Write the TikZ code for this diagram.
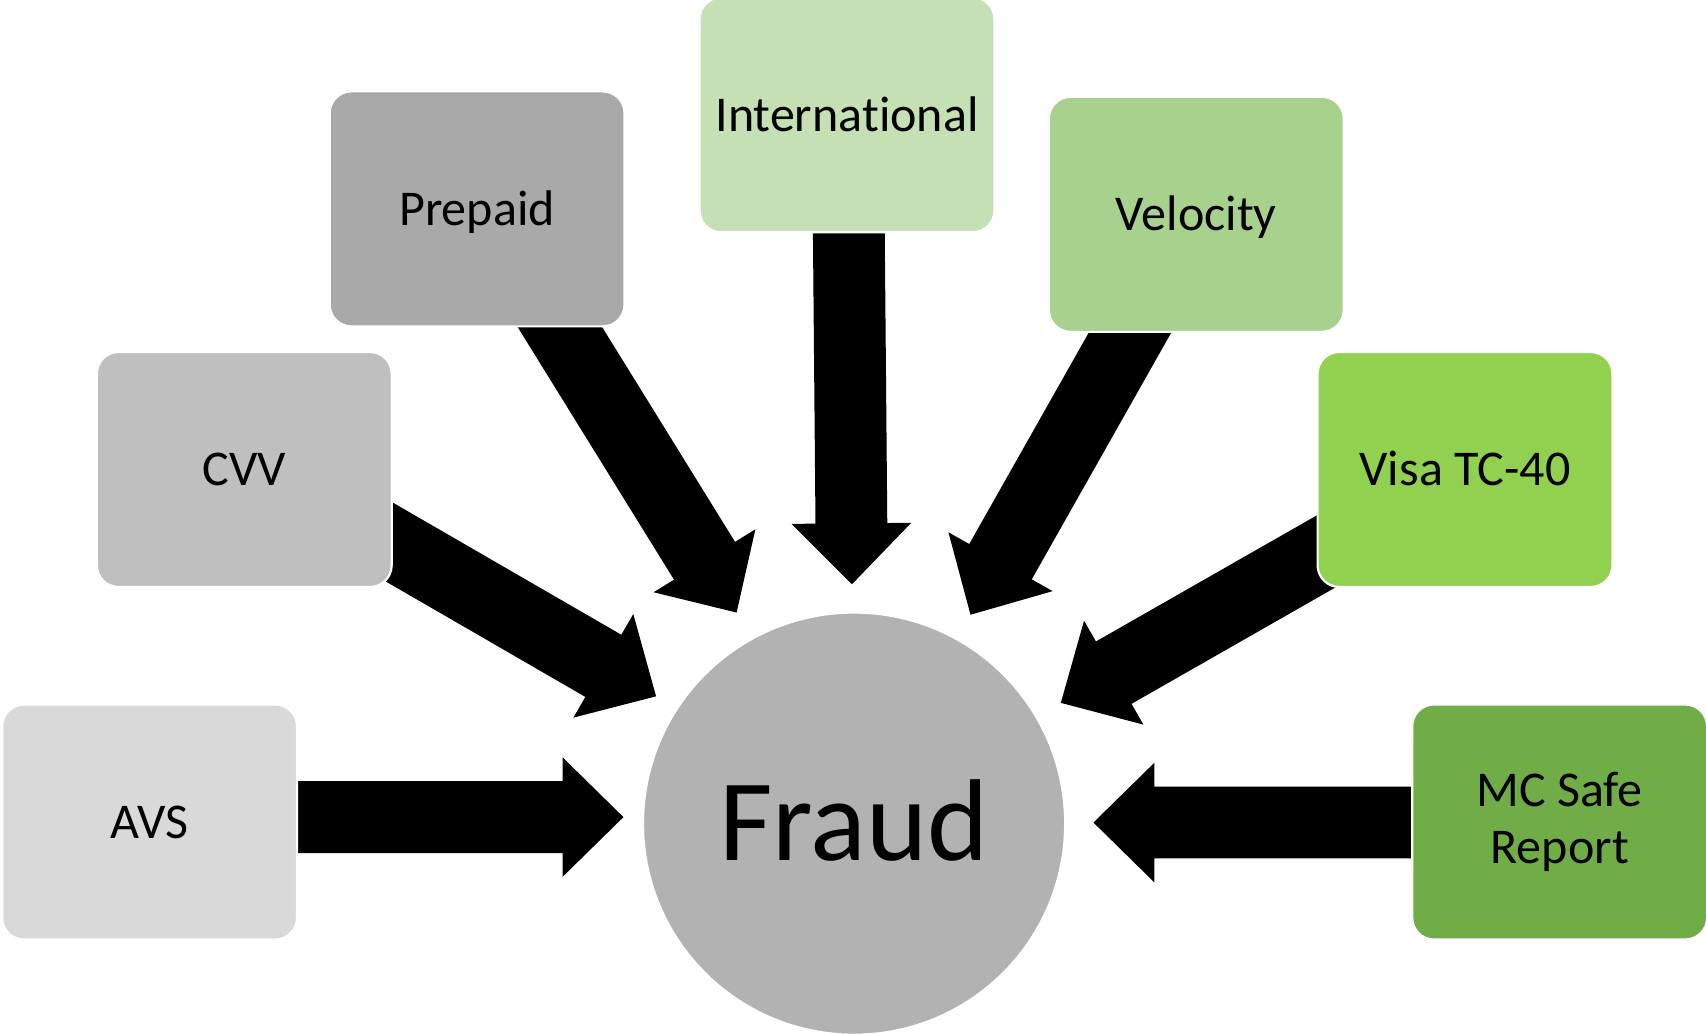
\documentclass[tikz,border=0pt]{standalone}
\usepackage{fontspec}
\setmainfont{Carlito}[Ligatures={NoCommon}]
\usetikzlibrary{calc}
\definecolor{cAVS}{HTML}{D9D9D9}
\definecolor{cCVV}{HTML}{BFBFBF}
\definecolor{cPrep}{HTML}{A9A9A9}
\definecolor{cIntl}{HTML}{C5E0B4}
\definecolor{cVel}{HTML}{A9D18E}
\definecolor{cVisa}{HTML}{92D050}
\definecolor{cMC}{HTML}{70AD47}
\definecolor{cFraud}{HTML}{B2B2B2}
\newcommand\fraudarrow[3]{%
  \coordinate (#1-n) at ($(#3)!56pt!(#2)$);
  \fill[black] ($(#2)!33pt!90:(#3)$) -- ($(#1-n)!33pt!90:(#3)$) -- ($(#1-n)!55pt!90:(#3)$)
    -- (#3) -- ($(#1-n)!55pt!-90:(#3)$) -- ($(#1-n)!33pt!-90:(#3)$) -- ($(#2)!33pt!-90:(#3)$) -- cycle;
}
\tikzset{
  box/.style={rectangle, rounded corners=20pt, draw=white, line width=2pt,
    minimum width=271pt, minimum height=216pt, inner sep=0pt,
    font=\fontsize{46}{53}\selectfont, text=black},
  capbox/.style={box, text height=30pt, text depth=0pt},
}
\begin{document}
\begin{tikzpicture}[x=1pt,y=-1pt]
\useasboundingbox (0,0) rectangle (1568,950);
% arrow end points
\coordinate (avs-t) at (250,751);   \coordinate (avs-h) at (573,751);
\coordinate (mc-t) at (1320,756);   \coordinate (mc-h) at (1005,756);
\coordinate (intl-t) at (780,195);  \coordinate (intl-h) at (783,537);
\coordinate (prep-t) at (500,277);  \coordinate (prep-h) at (677,563);
\coordinate (cvv-t) at (335,485);   \coordinate (cvv-h) at (603,640);
\coordinate (vel-t) at (1052,282);  \coordinate (vel-h) at (892,565);
\coordinate (visa-t) at (1236,497); \coordinate (visa-h) at (975,646);
% arrows
\fraudarrow{aavs}{avs-t}{avs-h}
\fraudarrow{amc}{mc-t}{mc-h}
\fraudarrow{aintl}{intl-t}{intl-h}
\fraudarrow{aprep}{prep-t}{prep-h}
\fraudarrow{acvv}{cvv-t}{cvv-h}
\fraudarrow{avel}{vel-t}{vel-h}
\fraudarrow{avisa}{visa-t}{visa-h}
% boxes
\node[capbox, fill=cAVS]  (avs)  at (137.5,755.5) {AVS};
\node[capbox, fill=cCVV]  (cvv)  at (224.5,431.5) {CVV};
\node[capbox, fill=cPrep] (prep) at (438.5,192) {Prepaid};
\node[capbox, fill=cIntl] (intl) at (778.5,105.5) {Internat\kern0pt ional};
\node[capbox, fill=cVel]  (vel)  at (1099.5,197) {Velocity};
\node[capbox, fill=cVisa] (visa) at (1346.5,431.5) {Visa TC-40};
\node[box, fill=cMC, align=center] (mc) at (1433.5,755.5) {MC Safe\\Report};
% center
\node[circle, fill=cFraud, draw=white, line width=2pt, minimum size=388pt, inner sep=0pt,
  font=\fontsize{107}{120}\selectfont, text height=68pt, text depth=0pt] (fraud) at (785,757) {Fraud};
\end{tikzpicture}
\end{document}
